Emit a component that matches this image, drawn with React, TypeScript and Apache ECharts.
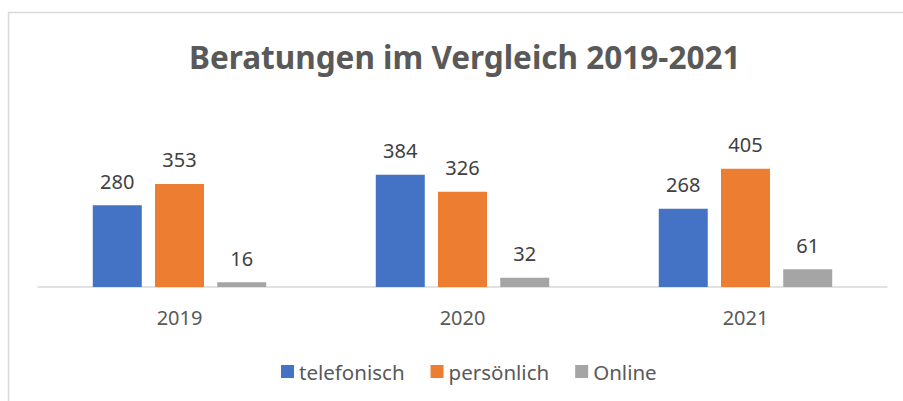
import React, { useEffect, useRef } from "react";
import * as echarts from "echarts";

const categories = ["2019", "2020", "2021"];
const telefonisch = [280, 384, 268];
const persoenlich = [353, 326, 405];
const online = [16, 32, 61];
const seriesNames = ["telefonisch", "persönlich", "Online"];

const FONT = "'Noto Sans', 'Open Sans', sans-serif";

export default function App() {
  const ref = useRef<HTMLDivElement>(null);
  useEffect(() => {
    if (!ref.current) return;
    const chart = echarts.init(ref.current, undefined, { renderer: "svg" });
    const label = {
      show: true,
      position: "top" as const,
      distance: 14,
      color: "#404040",
      fontSize: 20,
      fontFamily: FONT,
    };
    const mk = (name: string, data: number[], color: string) => ({
      name,
      type: "bar" as const,
      data,
      barWidth: 49,
      barGap: "27%",
      itemStyle: { color },
      label,
    });
    chart.setOption({
      animation: false,
      backgroundColor: "#ffffff",
      title: {
        text: "Beratungen im Vergleich 2019-2021",
        left: 184,
        top: 35,
        textStyle: {
          fontFamily: FONT,
          fontWeight: "bold",
          fontSize: 31.5,
          color: "#595959",
        },
      },
      graphic: [
        {
          type: "rect",
          shape: { x: 8.5, y: 12.5, width: 1000, height: 1000 },
          style: { fill: "none", stroke: "#d9d9d9", lineWidth: 1.5 },
          silent: true,
        },
      ],
      legend: {
        data: seriesNames,
        bottom: 14,
        left: 276,
        icon: "rect",
        itemWidth: 13,
        itemHeight: 13,
        itemGap: 26,
        textStyle: { fontFamily: FONT, fontSize: 20.5, color: "#595959" },
      },
      grid: { left: 38, right: 16, top: 141, bottom: 114 },
      xAxis: {
        type: "category",
        data: categories,
        axisLine: { lineStyle: { color: "#d9d9d9", width: 1.5 } },
        axisTick: { show: false },
        axisLabel: { margin: 20, fontFamily: FONT, fontSize: 20, color: "#595959" },
      },
      yAxis: {
        type: "value",
        min: 0,
        max: 500,
        show: false,
        splitLine: { show: false },
      },
      series: [
        mk(seriesNames[0], telefonisch, "#4472c4"),
        mk(seriesNames[1], persoenlich, "#ed7d31"),
        mk(seriesNames[2], online, "#a5a5a5"),
      ],
    });
    return () => chart.dispose();
  }, []);
  return (
    <div
      ref={ref}
      style={{ position: "fixed", left: 0, top: 0, width: 903, height: 401 }}
    />
  );
}
